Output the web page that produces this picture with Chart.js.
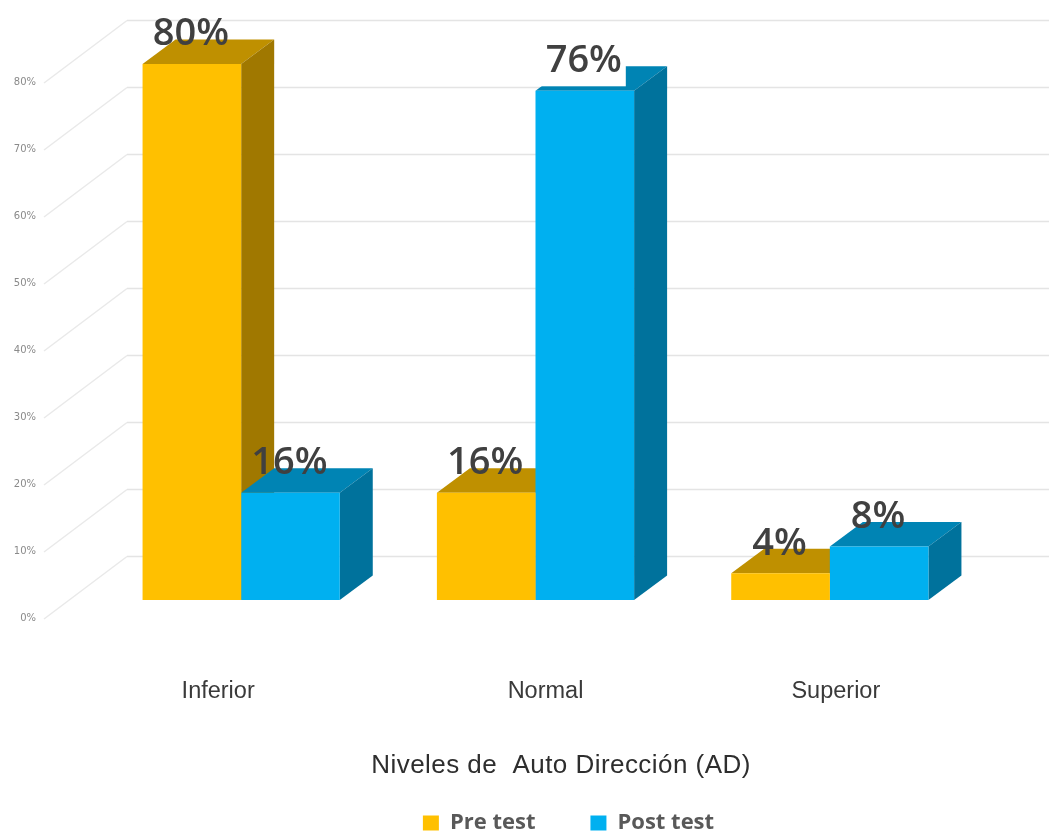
<!DOCTYPE html>
<html>
<head>
<meta charset="utf-8">
<title>Niveles de Auto Dirección</title>
<script src="https://cdn.jsdelivr.net/npm/chart.js@4"></script>
<style>
    html, body { margin: 0; padding: 0; background: #fff; overflow: hidden; }
    canvas { display: block; }
</style>
</head>
<body>
<canvas id="chart" width="1049" height="832"></canvas>
<script>
// Donnees
const categories = ['Inferior', 'Normal', 'Superior'];
const preTest = [80, 16, 4];
const postTest = [16, 76, 8];
const seriesNames = ['Pre test', 'Post test'];
const axisTitle = 'Niveles de  Auto Dirección (AD)';

// Couleurs des faces
const frontColors = ['#FFC000', '#00B0F0'];
const topColors = ['#BF9000', '#0084B4'];
const sideColors = ['#A07800', '#00729C'];

// Profondeur 3D
const barDepth = { x: 33, y: 24.5 };
const wallBack = { x: 127, y: 43.5 };
const wallFront = { x: 44, y: 19 };

// Decalage des libelles de categories dans l'original
const labelShift = [-23, 10, 6];

const wallPlugin = {
    id: 'wall',
    beforeDatasetsDraw(chart) {
        const ctx = chart.ctx;
        const y = chart.scales.y;
        ctx.save();
        ctx.lineWidth = 1.5;
        y.ticks.forEach(t => {
            const py = y.getPixelForValue(t.value);
            ctx.strokeStyle = '#E9E9E9';
            ctx.beginPath();
            ctx.moveTo(wallFront.x, py + wallFront.y);
            ctx.lineTo(wallBack.x, py - wallBack.y);
            ctx.stroke();
            ctx.strokeStyle = '#E4E4E4';
            ctx.beginPath();
            ctx.moveTo(wallBack.x, py - wallBack.y);
            ctx.lineTo(chart.width, py - wallBack.y);
            ctx.stroke();
        });

        // Faces du dessus et de cote, les faces avant sont les barres de Chart.js
        chart.data.datasets.forEach((ds, i) => {
            chart.getDatasetMeta(i).data.forEach(bar => {
                const left = bar.x - bar.width / 2;
                const right = bar.x + bar.width / 2;
                ctx.fillStyle = topColors[i];
                ctx.beginPath();
                ctx.moveTo(left, bar.y);
                ctx.lineTo(left + barDepth.x, bar.y - barDepth.y);
                ctx.lineTo(right + barDepth.x, bar.y - barDepth.y);
                ctx.lineTo(right, bar.y);
                ctx.closePath();
                ctx.fill();
                ctx.fillStyle = sideColors[i];
                ctx.beginPath();
                ctx.moveTo(right, bar.y);
                ctx.lineTo(right + barDepth.x, bar.y - barDepth.y);
                ctx.lineTo(right + barDepth.x, bar.base - barDepth.y);
                ctx.lineTo(right, bar.base);
                ctx.closePath();
                ctx.fill();
            });
        });
        ctx.restore();
    }
};

const textPlugin = {
    id: 'texts',
    afterDatasetsDraw(chart) {
        const ctx = chart.ctx;
        const x = chart.scales.x;
        ctx.save();
        ctx.textAlign = 'center';
        ctx.textBaseline = 'middle';

        // Valeurs au dessus des barres
        chart.data.datasets.forEach((ds, i) => {
            chart.getDatasetMeta(i).data.forEach((bar, j) => {
                const tx = bar.x - 1;
                const ty = bar.y - 29.5;
                // 76% a un fond blanc dans l'original
                if (ds.data[j] === 76) {
                    ctx.fillStyle = '#fff';
                    ctx.fillRect(tx - 44, ty - 26, 86, 51);
                }
                ctx.font = '600 38px "Open Sans"';
                ctx.fillStyle = '#404040';
                ctx.fillText(ds.data[j] + '%', tx, ty);
            });
        });

        // Categories
        ctx.font = '23.5px "Liberation Sans"';
        ctx.fillStyle = '#3A3A3A';
        categories.forEach((c, i) => {
            ctx.fillText(c, x.getPixelForValue(i) + labelShift[i], 692);
        });

        // Titre de l'axe
        ctx.font = '26px "Liberation Sans"';
        ctx.letterSpacing = '0.45px';
        ctx.fillStyle = '#2E2E2E';
        ctx.fillText(axisTitle, 561, 766);
        ctx.restore();
    },
    afterLayout(chart) {
        // Legende placee comme dans l'original
        const legend = chart.legend;
        legend.left += 80;
        legend.right += 80;
        legend.top = 823 - 11 - legend.options.labels.padding;
    }
};

new Chart(document.getElementById('chart').getContext('2d'), {
    type: 'bar',
    data: {
        labels: categories,
        datasets: [
            { label: seriesNames[0], data: preTest, backgroundColor: frontColors[0] },
            { label: seriesNames[1], data: postTest, backgroundColor: frontColors[1] }
        ]
    },
    options: {
        responsive: false,
        animation: false,
        categoryPercentage: 0.67,
        barPercentage: 1,
        layout: { padding: { top: 63, right: 72, left: 0, bottom: 0 } },
        plugins: {
            tooltip: { enabled: false },
            legend: {
                position: 'bottom',
                maxHeight: 40,
                labels: {
                    boxWidth: 16,
                    boxHeight: 15,
                    padding: 55,
                    color: '#595959',
                    font: { family: '"Open Sans"', size: 22, weight: 'bold' }
                }
            }
        },
        scales: {
            x: {
                grid: { display: false },
                border: { display: false },
                ticks: { display: false },
                afterFit(scale) { scale.height = 192; }
            },
            y: {
                min: 0,
                max: 80,
                grid: { display: false, drawTicks: false },
                border: { display: false },
                ticks: {
                    stepSize: 10,
                    padding: 58,
                    labelOffset: 18.5,
                    color: '#8A8A8A',
                    font: { family: '"DejaVu Sans"', size: 10 },
                    callback: v => v + '%'
                },
                afterFit(scale) { scale.width = 94; }
            }
        }
    },
    plugins: [wallPlugin, textPlugin]
});
</script>
</body>
</html>
